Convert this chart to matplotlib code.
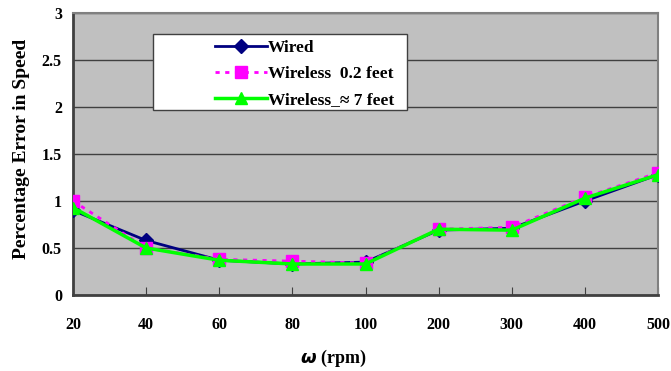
import matplotlib
matplotlib.use("Agg")
import matplotlib.pyplot as plt
from matplotlib.patches import Rectangle
import numpy as np

categories = ["20", "40", "60", "80", "100", "200", "300", "400", "500"]
wired = [0.90, 0.58, 0.37, 0.33, 0.35, 0.69, 0.71, 1.00, 1.28]
wireless_02 = [1.00, 0.50, 0.38, 0.36, 0.34, 0.70, 0.72, 1.04, 1.30]
wireless_7 = [0.93, 0.50, 0.37, 0.33, 0.33, 0.70, 0.69, 1.03, 1.28]
yticks = [0, 0.5, 1, 1.5, 2, 2.5, 3]
ytick_labels = ["0", "0.5", "1", "1.5", "2", "2.5", "3"]

plt.rcParams['font.family'] = ['Liberation Serif', 'DejaVu Serif']
plt.rcParams['font.weight'] = 'bold'

W, H = 671, 371
fig = plt.figure(figsize=(W / 100, H / 100), dpi=100)
ax = fig.add_axes([73 / W, 1 - 295 / H, 585 / W, 282 / H])
ax.set_facecolor('#C0C0C0')

x = np.arange(len(categories))
ax.plot(x, wired, color='#000080', lw=2, marker='D', ms=7, label='Wired', zorder=3)
ax.plot(x, wireless_02, color='#FF00FF', lw=2, ls=(0, (1.5, 2)), marker='s', ms=9,
        label='Wireless  0.2 feet', zorder=4)
ax.plot(x, wireless_7, color='#00FF00', lw=2.5, marker='^', ms=9,
        label='Wireless_\u2248 7 feet', zorder=5)

ax.set_xlim(0, len(categories) - 1)
ax.set_ylim(0, 3)
ax.set_yticks(yticks)
ax.set_yticklabels(ytick_labels)
ax.set_xticks(x)
ax.set_xticklabels(categories)
ax.yaxis.grid(True, color='#404040', lw=1)
ax.set_axisbelow(True)
ax.tick_params(axis='x', direction='in', length=6, pad=16, labelsize=11.5, color='#404040')
ax.tick_params(axis='y', length=0, pad=8, labelsize=11.5)
for lab in ax.get_xticklabels() + ax.get_yticklabels():
    lab.set_fontweight('bold')

ax.spines['left'].set_color('#404040')
ax.spines['left'].set_linewidth(2)
ax.spines['bottom'].set_color('#404040')
ax.spines['bottom'].set_linewidth(2)
ax.spines['top'].set_color('#808080')
ax.spines['top'].set_linewidth(1.5)
ax.spines['right'].set_color('#808080')
ax.spines['right'].set_linewidth(1.5)

fig.text(22 / W, 1 - 149 / H, 'Percentage Error in Speed', rotation=90,
         ha='center', va='center', fontsize=14, fontweight='bold')
fig.text(333 / W, 1 - 358 / H, r'$\boldsymbol{\omega}$ (rpm)',
         ha='center', va='center', fontsize=13, fontweight='bold')

# legend box
ax.add_patch(Rectangle((0.137, 0.656), 0.434, 0.269, transform=ax.transAxes,
                       facecolor='white', edgecolor='#404040', lw=1, zorder=6))
leg = ax.legend(loc='upper left', bbox_to_anchor=(0.232, 0.925), fontsize=12.5,
                frameon=False, handlelength=3.0, borderpad=0.35, labelspacing=0.55,
                handletextpad=0.05, borderaxespad=0)
leg.set_zorder(7)
for t in leg.get_texts():
    t.set_fontweight('bold')

fig.savefig('out.png', dpi=100)
